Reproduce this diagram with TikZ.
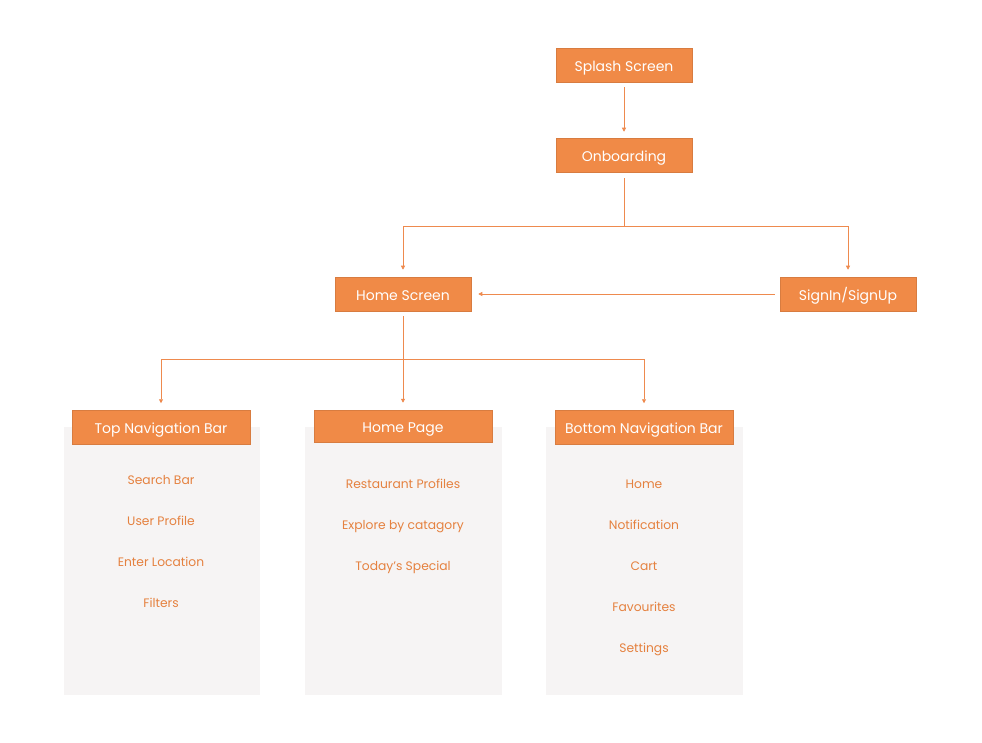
\documentclass[tikz,border=0pt]{standalone}
\usepackage{fontspec}
\setmainfont{Poppins}
\usetikzlibrary{arrows.meta}
\definecolor{orfill}{HTML}{F08A47}
\definecolor{orline}{HTML}{EE8A4E}
\definecolor{ortext}{HTML}{E5813F}
\definecolor{panel}{HTML}{F6F4F4}
\tikzset{
  hdr/.style={fill=orfill, draw=orfill!90!black, line width=0.5pt, text=white, minimum width=136pt, minimum height=34pt, inner sep=0pt, text height=12.2pt, text depth=0pt, font=\fontsize{14}{16}\selectfont},
  wide/.style={minimum width=178pt},
  item/.style={text=ortext, inner sep=0pt, text height=8.8pt, text depth=0pt, font=\fontsize{12.3}{14}\selectfont},
  conn/.style={draw=orline, line width=0.8pt},
  arr/.style={conn, -{Triangle[length=4pt,width=4pt]}},
}
\begin{document}
\begin{tikzpicture}[x=1pt,y=-1pt]
\useasboundingbox (0,0) rectangle (982,743);
\fill[white] (0,0) rectangle (982,743);
% panels
\fill[panel] (64,427) rectangle (260,695);
\fill[panel] (305,427) rectangle (502,695);
\fill[panel] (546,427) rectangle (743,695);
% header nodes
\node[hdr] (splash) at (624,65) {Splash Screen};
\node[hdr] (onb) at (624,155) {Onboarding};
\node[hdr] (home) at (403,294) {Home Screen};
\node[hdr] (sign) at (848,294) {SignIn/SignUp};
\node[hdr,wide] (top) at (161,427.5) {Top Navigation Bar};
\node[hdr,wide,minimum height=32pt] (hp) at (403,426) {Home Page};
\node[hdr,wide] (bot) at (644,427.5) {Bottom Navigation Bar};
% items
\node[item] (t1) at (161,480) {Search Bar};
\node[item] (t2) at (161,521) {User Profile};
\node[item] (t3) at (161,562) {Enter Location};
\node[item] (t4) at (161,603) {Filters};
\node[item] (h1) at (403,484) {Restaurant Profiles};
\node[item] (h2) at (403,525) {Explore by catagory};
\node[item] (h3) at (403,566) {Today’s Special};
\node[item] (b1) at (644,484) {Home};
\node[item] (b2) at (644,525) {Notification};
\node[item] (b3) at (644,566) {Cart};
\node[item] (b4) at (644,607) {Favourites};
\node[item] (b5) at (644,648) {Settings};
% connectors
\coordinate (j1) at (624,226);
\coordinate (j2) at (403,359);
\draw[arr] ([yshift=-5pt]splash.south) -- ([yshift=6pt]onb.north);
\draw[conn] ([yshift=-6pt]onb.south) -- (j1);
\draw[arr] (j1) -| ([yshift=7pt]home.north);
\draw[arr] (j1) -| ([yshift=7pt]sign.north);
\draw[arr] ([xshift=-5pt]sign.west) -- ([xshift=7pt]home.east);
\draw[conn] ([yshift=-5pt]home.south) -- (j2);
\draw[arr] (j2) -| ([yshift=7pt]top.north);
\draw[arr] (j2) -- ([yshift=7pt]hp.north);
\draw[arr] (j2) -| ([yshift=7pt]bot.north);
\end{tikzpicture}
\end{document}
